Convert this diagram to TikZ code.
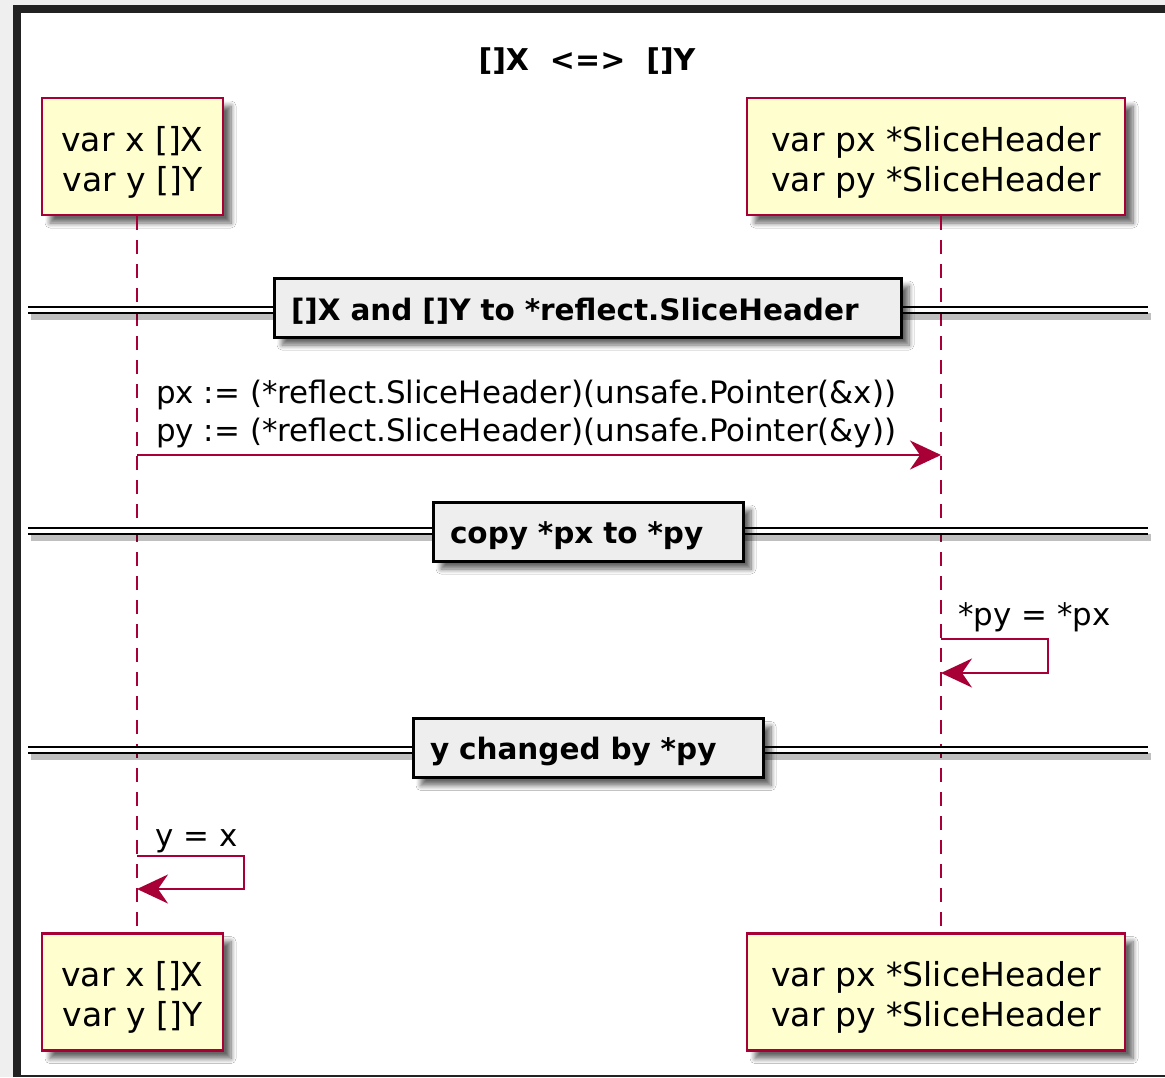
\documentclass[tikz,border=0pt]{standalone}
\usepackage{fontspec}
\setmainfont{DejaVu Sans}
\usetikzlibrary{shadows.blur,arrows.meta}

\definecolor{plumred}{HTML}{A80036}
\definecolor{partfill}{HTML}{FEFECE}
\definecolor{sepfill}{HTML}{EEEEEE}
\definecolor{framedark}{HTML}{222222}
\definecolor{screenbg}{HTML}{EFEFEF}

\tikzset{
  softshadow/.style={blur shadow={shadow xshift=8pt, shadow yshift=-8pt,
      shadow opacity=60, shadow blur steps=8, shadow blur radius=5pt}},
  partbox/.style={draw=plumred, line width=2.2pt, fill=partfill,
      minimum height=117pt, align=center, inner sep=0pt,
      font=\fontsize{33}{40}\selectfont, softshadow},
  lifeline/.style={draw=plumred, line width=2pt, dash pattern=on 14pt off 10pt},
  msg/.style={draw=plumred, line width=2pt,
      -{Stealth[length=31pt, width=29pt, inset=10pt]}},
  msgtext/.style={inner sep=0pt, align=left, font=\fontsize{30.9}{38}\selectfont},
  sepline/.style={draw=black, line width=2pt, double=white, double distance=4pt},
  sepshadow/.style={draw=black, line width=7pt, opacity=0.25},
  sepbox/.style={draw=black, line width=3pt, fill=sepfill, minimum height=59pt,
      inner xsep=17pt, inner ysep=0pt, align=left,
      font=\fontsize{29.5}{36}\selectfont\bfseries, softshadow},
  titletext/.style={inner sep=0pt, font=\fontsize{30}{36}\selectfont\bfseries}
}
% strut that lowers the two-line participant labels a little
\newcommand{\partstrut}{\rule{0pt}{36pt}}
% strut that lowers the separator labels a little
\newcommand{\sepstrut}{\rule{0pt}{30pt}}

\begin{document}
\begin{tikzpicture}[x=1pt,y=-1pt]
  \useasboundingbox (0,0) rectangle (1165,1077);

  % window frame around the diagram
  \fill[screenbg] (0,0) rectangle (1165,1077);
  \fill[framedark] (13,5) rectangle (1165,1077);
  \fill[white] (21,13) rectangle (1165,1075);

  % title
  \node[titletext] (title) at (587,61) {[]X\ \ <=>\ \ []Y};

  % participants, top and bottom
  \node[partbox, minimum width=181pt] (xtop) at (132.5,156.5) {\partstrut var x []X\\var y []Y};
  \node[partbox, minimum width=378pt] (ptop) at (936,156.5) {\partstrut var px *SliceHeader\\var py *SliceHeader};
  \node[partbox, minimum width=181pt] (xbot) at (132.5,992) {\partstrut var x []X\\var y []Y};
  \node[partbox, minimum width=378pt] (pbot) at (936,992) {\partstrut var px *SliceHeader\\var py *SliceHeader};

  % lifelines
  \draw[lifeline] ([xshift=4.5pt]xtop.south) -- ([xshift=4.5pt]xbot.north);
  \draw[lifeline] ([xshift=4.5pt]ptop.south) -- ([xshift=4.5pt]pbot.north);

  % separator: []X and []Y to *reflect.SliceHeader
  \coordinate (s1l) at (28,310);
  \coordinate (s1r) at (1148,310);
  \draw[sepshadow] ([shift={(3,6)}]s1l) -- ([shift={(3,6)}]s1r);
  \draw[sepline] (s1l) -- (s1r);
  \node[sepbox, text width=593pt] (sep1) at (587.5,307.5) {\sepstrut[]X and []Y to *reflect.SliceHeader};

  % message: conversion to slice headers
  \coordinate (m1s) at (137,455);
  \coordinate (m1e) at (941,455);
  \node[msgtext, anchor=south west] (m1t) at (156,448)
    {px := (*reflect.SliceHeader)(unsafe.Pointer(\&x))\\py := (*reflect.SliceHeader)(unsafe.Pointer(\&y))};
  \draw[msg] (m1s) -- (m1e);

  % separator: copy *px to *py
  \coordinate (s2l) at (28,531);
  \coordinate (s2r) at (1148,531);
  \draw[sepshadow] ([shift={(3,6)}]s2l) -- ([shift={(3,6)}]s2r);
  \draw[sepline] (s2l) -- (s2r);
  \node[sepbox, text width=276pt] (sep2) at (588,531.5) {\sepstrut copy *px to *py};

  % self message on the header lifeline
  \coordinate (c1s) at (941,639);
  \coordinate (c1e) at (941,673);
  \node[msgtext, anchor=base west] (c1t) at (958,625) {*py = *px};
  \draw[msg] (c1s) -- ++(107,0) -- ++(0,34) -- (c1e);

  % separator: y changed by *py
  \coordinate (s3l) at (28,750);
  \coordinate (s3r) at (1148,750);
  \draw[sepshadow] ([shift={(3,6)}]s3l) -- ([shift={(3,6)}]s3r);
  \draw[sepline] (s3l) -- (s3r);
  \node[sepbox, text width=316pt] (sep3) at (588,748) {\sepstrut y changed by *py};

  % self message on the slice lifeline
  \coordinate (c2s) at (137,856);
  \coordinate (c2e) at (137,889);
  \node[msgtext, anchor=base west] (c2t) at (155,846) {y = x};
  \draw[msg] (c2s) -- ++(107,0) -- ++(0,33) -- (c2e);
\end{tikzpicture}
\end{document}
